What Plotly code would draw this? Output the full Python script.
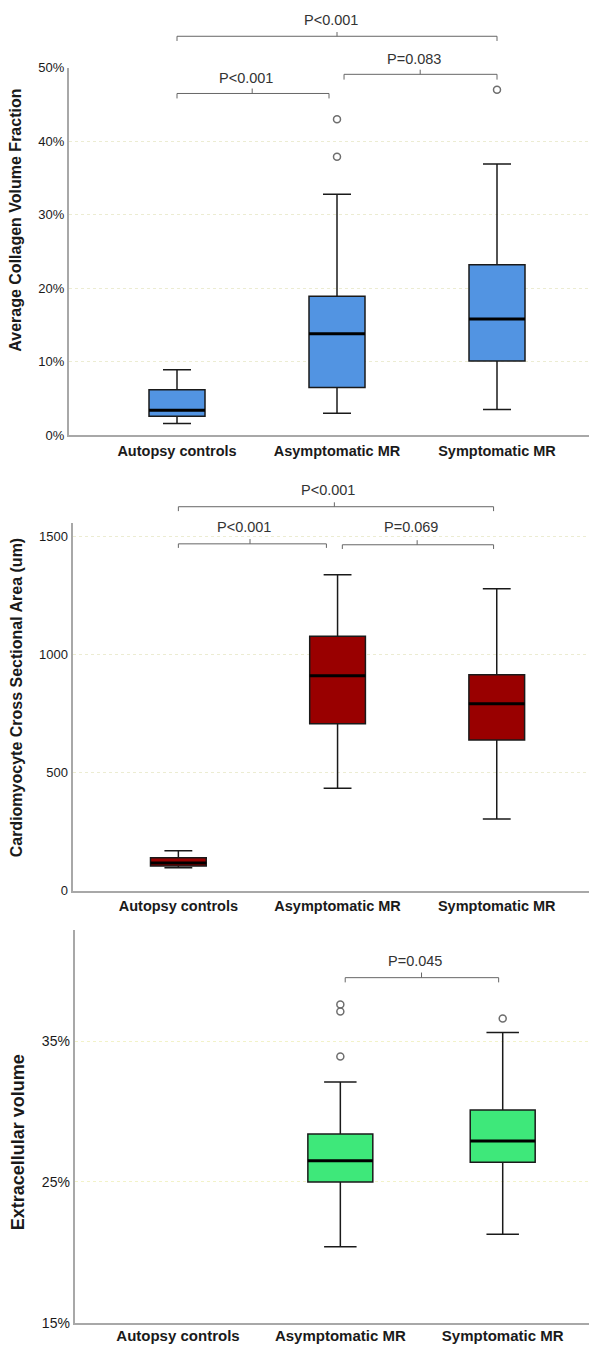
import plotly.graph_objects as go

categories = ["Autopsy controls", "Asymptomatic MR", "Symptomatic MR"]

# Panel 1: Average Collagen Volume Fraction
cvf_low = [0.016, 0.030, 0.035]
cvf_q1 = [0.026, 0.065, 0.101]
cvf_med = [0.034, 0.138, 0.158]
cvf_q3 = [0.062, 0.189, 0.232]
cvf_high = [0.089, 0.328, 0.369]
cvf_out_x = ["Asymptomatic MR", "Asymptomatic MR", "Symptomatic MR"]
cvf_out_y = [0.430, 0.379, 0.470]

# Panel 2: Cardiomyocyte Cross Sectional Area
csa_low = [98, 434, 304]
csa_q1 = [105, 708, 639]
csa_med = [118, 911, 792]
csa_q3 = [140, 1078, 915]
csa_high = [170, 1339, 1280]

# Panel 3: Extracellular volume (no autopsy data)
ecv_cats = ["Asymptomatic MR", "Symptomatic MR"]
ecv_low = [0.204, 0.213]
ecv_q1 = [0.250, 0.264]
ecv_med = [0.265, 0.279]
ecv_q3 = [0.284, 0.301]
ecv_high = [0.321, 0.356]
ecv_out_x = ["Asymptomatic MR", "Asymptomatic MR", "Asymptomatic MR", "Symptomatic MR"]
ecv_out_y = [0.376, 0.371, 0.339, 0.366]

# Significance brackets: (x_start, x_end, x_mid, label, level)
cvf_brackets = [(0, 2.0, 1.0, "P<0.001", "top"), (0, 0.95, 0.47, "P<0.001", "left"), (1.044, 2.0, 1.52, "P=0.083", "right")]
csa_brackets = [(0, 1.98, 0.98, "P<0.001", "top"), (0, 0.93, 0.45, "P<0.001", "left"), (1.03, 1.98, 1.50, "P=0.069", "right")]
ecv_brackets = [(1.03, 1.975, 1.50, "P=0.045", "right")]

W, H = 597, 1345
LINE = "#1a1a1a"

fig = go.Figure()

panels = [
    dict(ax="", cats=categories, low=cvf_low, q1=cvf_q1, med=cvf_med, q3=cvf_q3, high=cvf_high,
         color="#5294e2", ox=cvf_out_x, oy=cvf_out_y, bw=0.35),
    dict(ax="2", cats=categories, low=csa_low, q1=csa_q1, med=csa_med, q3=csa_q3, high=csa_high,
         color="#990000", ox=[], oy=[], bw=0.35),
    dict(ax="3", cats=ecv_cats, low=ecv_low, q1=ecv_q1, med=ecv_med, q3=ecv_q3, high=ecv_high,
         color="#3ee87a", ox=ecv_out_x, oy=ecv_out_y, bw=0.40),
]

for p in panels:
    xa = "x" + p["ax"]
    ya = "y" + p["ax"]
    bw = p["bw"]
    fig.add_trace(go.Box(
        x=p["cats"], q1=p["q1"], median=p["med"], q3=p["q3"],
        lowerfence=p["low"], upperfence=p["high"],
        fillcolor=p["color"], line=dict(color=LINE, width=1.5),
        width=bw, whiskerwidth=0.5, boxpoints=False,
        xaxis=xa, yaxis=ya, showlegend=False, hoverinfo="skip"))
    if p["ox"]:
        fig.add_trace(go.Scatter(
            x=p["ox"], y=p["oy"], mode="markers",
            marker=dict(symbol="circle-open", size=7, color="#6e6e6e", line=dict(width=1.5)),
            xaxis=xa, yaxis=ya, showlegend=False, hoverinfo="skip"))
    # thick median lines
    for c, m in zip(p["cats"], p["med"]):
        i = categories.index(c)
        fig.add_shape(type="line", xref=xa, yref=ya, x0=i - bw / 2, x1=i + bw / 2,
                      y0=m, y1=m, line=dict(color="black", width=3))

# bracket geometry in y-domain fractions: (horizontal, end tips, centre tick, label)
bracket_levels = {
    "": {"top": (1.0855, 1.0728, 1.0971, 1.129), "left": (0.9299, 0.9164, 0.9434, 0.973),
         "right": (0.982, 0.9676, 0.9946, 1.024)},
    "2": {"top": (1.045, 1.033, 1.057, 1.090), "left": (0.944, 0.933, 0.957, 0.989),
          "right": (0.9415, 0.930, 0.954, 0.989)},
    "3": {"right": (0.878, 0.866, 0.891, 0.920)},
}

for ax, brs in [("", cvf_brackets), ("2", csa_brackets), ("3", ecv_brackets)]:
    xa = "x" + ax
    yd = "y" + ax + " domain"
    for x0, x1, xm, lab, kind in brs:
        h, tip, up, ly = bracket_levels[ax][kind]
        ln = dict(color="#666666", width=1)
        fig.add_shape(type="line", xref=xa, yref=yd, x0=x0, x1=x1, y0=h, y1=h, line=ln)
        fig.add_shape(type="line", xref=xa, yref=yd, x0=x0, x1=x0, y0=h, y1=tip, line=ln)
        fig.add_shape(type="line", xref=xa, yref=yd, x0=x1, x1=x1, y0=h, y1=tip, line=ln)
        fig.add_shape(type="line", xref=xa, yref=yd, x0=xm, x1=xm, y0=h, y1=up, line=ln)
        fig.add_annotation(xref=xa, yref=yd, x=xm - 0.04, y=ly,
                           text=lab, showarrow=False,
                           font=dict(size=14.5, color="#333333",
                                     family="Liberation Sans, Arial, sans-serif"),
                           yanchor="middle")

def px2x(px):
    return px / W

def px2y(py):
    return 1 - py / H

axis_common = dict(showline=True, linecolor="#a8a8a8", linewidth=2, ticks="",
                   zeroline=False, mirror=False)

yfont = dict(family="Liberation Sans, Arial, sans-serif", size=13, color="#1a1a1a")

def xfont(sz):
    return dict(family="Liberation Sans, Arial, sans-serif", size=sz, color="#1a1a1a", weight="bold")

layout_axes = {
    "xaxis": dict(domain=[px2x(61), px2x(597)], anchor="y", type="category",
                  categoryorder="array", categoryarray=categories, range=[-0.675, 2.675],
                  showgrid=False, tickfont=xfont(14.5), ticklabelstandoff=1, **axis_common),
    "yaxis": dict(domain=[px2y(425), px2y(53.3)], anchor="x", range=[0, 0.5],
                  tickvals=[0, 0.1, 0.2, 0.3, 0.4, 0.5], tickformat=".0%",
                  showgrid=True, gridcolor="#ececd2", griddash="dot", gridwidth=1,
                  tickfont=yfont, **axis_common),
    "xaxis2": dict(domain=[px2x(64.5), px2x(597)], anchor="y2", type="category",
                   categoryorder="array", categoryarray=categories, range=[-0.665, 2.68],
                   showgrid=False, tickfont=xfont(14.5), ticklabelstandoff=1, **axis_common),
    "yaxis2": dict(domain=[px2y(885.7), px2y(514)], anchor="x2", range=[0, 1557],
                   tickvals=[0, 500, 1000, 1500],
                   showgrid=True, gridcolor="#ececd2", griddash="dot", gridwidth=1,
                   tickfont=yfont, **axis_common),
    "xaxis3": dict(domain=[px2x(66.7), px2x(597)], anchor="y3", type="category",
                   categoryorder="array", categoryarray=categories, range=[-0.636, 2.63],
                   showgrid=False, tickfont=xfont(15), ticklabelstandoff=-2, **axis_common),
    "yaxis3": dict(domain=[px2y(1322.7), px2y(925)], anchor="x3", range=[0.15, 0.429],
                   tickvals=[0.15, 0.25, 0.35], tickformat=".0%",
                   showgrid=True, gridcolor="#f2f2c8", griddash="dot", gridwidth=1,
                   tickfont=dict(yfont, size=14), **axis_common),
}

fig.update_layout(width=W, height=H, margin=dict(l=0, r=0, t=0, b=0),
                  paper_bgcolor="white", plot_bgcolor="white",
                  font=dict(family="Liberation Sans, Arial, sans-serif"),
                  **layout_axes)

titles = [
    ("Average Collagen Volume Fraction", 8, 208, 16),
    ("Cardiomyocyte Cross Sectional Area (um)", 8, 690, 16),
    ("Extracellular volume", 10, 1140, 18),
]
for t, xp, yp, fs in titles:
    fig.add_annotation(xref="paper", yref="paper", x=px2x(xp), y=px2y(yp), text=t,
                       textangle=-90, showarrow=False, xanchor="center", yanchor="middle",
                       font=dict(size=fs, color="#1a1a1a", weight="bold",
                                 family="Liberation Sans, Arial, sans-serif"))

fig.write_html("out.html")
